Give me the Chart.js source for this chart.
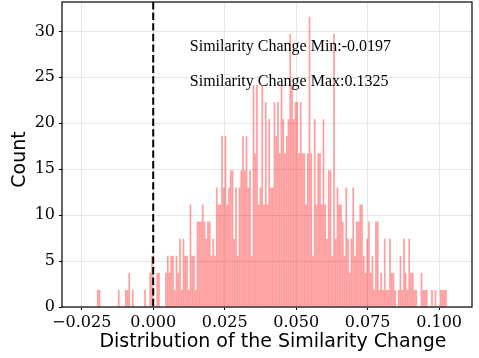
<!DOCTYPE html>
<html>
<head>
<meta charset="utf-8">
<script src="https://cdn.jsdelivr.net/npm/chart.js@4/dist/chart.umd.min.js"></script>
<style>
  html, body { margin: 0; padding: 0; background: #fff; overflow: hidden; }
  canvas { display: block; }
</style>
</head>
<body>
<canvas id="c" width="479" height="358"></canvas>
<script>
// ---- data ----
const binLo = -0.0197;
const binHi = 0.1027;
const binCount = 200;
const counts = [
  1,1,0,0,0,0,0,0,0,0,0,0,1,0,0,0,1,1,2,0,1,0,0,0,0,0,0,1,0,0,2,3,0,0,2,2,0,0,0,
  2,3,2,3,3,1,3,2,4,1,4,3,3,1,6,3,3,1,5,5,5,6,5,4,5,
  5,3,4,3,7,6,6,10,7,10,6,7,8,8,4,7,3,7,8,10,8,10,7,8,3,13,9,13,6,7,
  13,6,12,6,11,7,7,12,10,12,9,13,11,9,10,11,16,13,11,12,12,9,12,9,9,6,9,
  17,9,3,11,6,9,9,6,11,6,4,8,8,3,16,4,7,6,6,5,3,7,4,2,4,7,3,5,5,
  6,6,3,2,4,5,2,3,1,5,5,1,2,1,4,1,1,4,2,2,1,0,1,3,1,4,2,1,4,
  2,2,1,1,0,0,2,1,1,1,0,0,1,0,1,0,0,1,1,1,1
];
const xTicks = [-0.025, 0.000, 0.025, 0.050, 0.075, 0.100];
const xTickLabels = ['\u22120.025', '0.000', '0.025', '0.050', '0.075', '0.100'];
const yTicks = [0, 5, 10, 15, 20, 25, 30];
const refLineX = 0;
const annotations = [
  { text: 'Similarity Change Min:-0.0197', x: 0.0128, y: 28.3 },
  { text: 'Similarity Change Max:0.1325', x: 0.0128, y: 24.5 }
];
const xLabel = 'Distribution of the Similarity Change';
const yLabel = 'Count';

// ---- histogram (density) ----
const binWidth = (binHi - binLo) / binCount;
const total = counts.reduce((a, b) => a + b, 0);
const bars = counts.map((c, i) => ({ x: binLo + (i + 0.5) * binWidth, y: c / (total * binWidth) }));

const framePlugin = {
  id: 'frame',
  afterDatasetsDraw(chart) {
    const { ctx, chartArea: a, scales } = chart;
    const px = scales.x.getPixelForValue(refLineX);
    ctx.save();
    ctx.strokeStyle = '#000';
    ctx.lineWidth = 2;
    ctx.setLineDash([7.4, 3.2]);
    ctx.beginPath();
    ctx.moveTo(px, a.top);
    ctx.lineTo(px, a.bottom);
    ctx.stroke();
    ctx.restore();
    ctx.save();
    ctx.fillStyle = '#000';
    ctx.font = '16px "Liberation Serif"';
    ctx.textBaseline = 'middle';
    ctx.textAlign = 'left';
    annotations.forEach(t => {
      ctx.fillText(t.text, scales.x.getPixelForValue(t.x), scales.y.getPixelForValue(t.y));
    });
    ctx.restore();
  },
  afterDraw(chart) {
    const { ctx, chartArea: a } = chart;
    ctx.save();
    ctx.strokeStyle = '#000';
    ctx.lineWidth = 1.2;
    ctx.strokeRect(a.left, a.top, a.right - a.left, a.bottom - a.top);
    ctx.fillStyle = '#000';
    ctx.font = '19px "DejaVu Sans"';
    ctx.textAlign = 'center';
    ctx.textBaseline = 'middle';
    ctx.fillText(xLabel, (a.left + a.right) / 2 + 6, a.bottom + 35);
    ctx.translate(20, (a.top + a.bottom) / 2 + 5);
    ctx.rotate(-Math.PI / 2);
    ctx.fillText(yLabel, 0, 0);
    ctx.restore();
  }
};

new Chart(document.getElementById('c'), {
  type: 'bar',
  data: {
    datasets: [{
      data: bars,
      backgroundColor: 'rgba(255,0,0,0.38)',
      borderWidth: 0,
      barPercentage: 0.98,
      categoryPercentage: 1.0
    }]
  },
  options: {
    responsive: false,
    animation: false,
    events: [],
    layout: { padding: { top: 2, right: 7, left: 0, bottom: 0 } },
    plugins: { legend: { display: false }, tooltip: { enabled: false } },
    scales: {
      x: {
        type: 'linear',
        offset: false,
        min: -0.0319,
        max: 0.1115,
        afterFit: s => { s.height = 51; s.paddingLeft = 0; s.paddingRight = 0; },
        afterBuildTicks: s => { s.ticks = xTicks.map(v => ({ value: v })); },
        grid: { offset: false, color: '#e6e6e6', lineWidth: 1, drawTicks: true, tickLength: 3, tickColor: '#000' },
        border: { display: false },
        ticks: {
          autoSkip: false, maxRotation: 0, padding: 3,
          color: '#000',
          font: { family: 'DejaVu Serif', size: 16 },
          callback: (v, i) => xTickLabels[i]
        },
        title: { display: false }
      },
      y: {
        min: 0,
        max: 33.2,
        afterFit: s => { s.width = 62; s.paddingTop = 0; s.paddingBottom = 0; },
        afterBuildTicks: s => { s.ticks = yTicks.map(v => ({ value: v })); },
        grid: { color: '#e6e6e6', lineWidth: 1, drawTicks: true, tickLength: 3, tickColor: '#000' },
        border: { display: false },
        ticks: {
          padding: 4, color: '#000',
          font: { family: 'DejaVu Serif', size: 16 }
        },
        title: { display: false }
      }
    }
  },
  plugins: [framePlugin]
});
</script>
</body>
</html>
